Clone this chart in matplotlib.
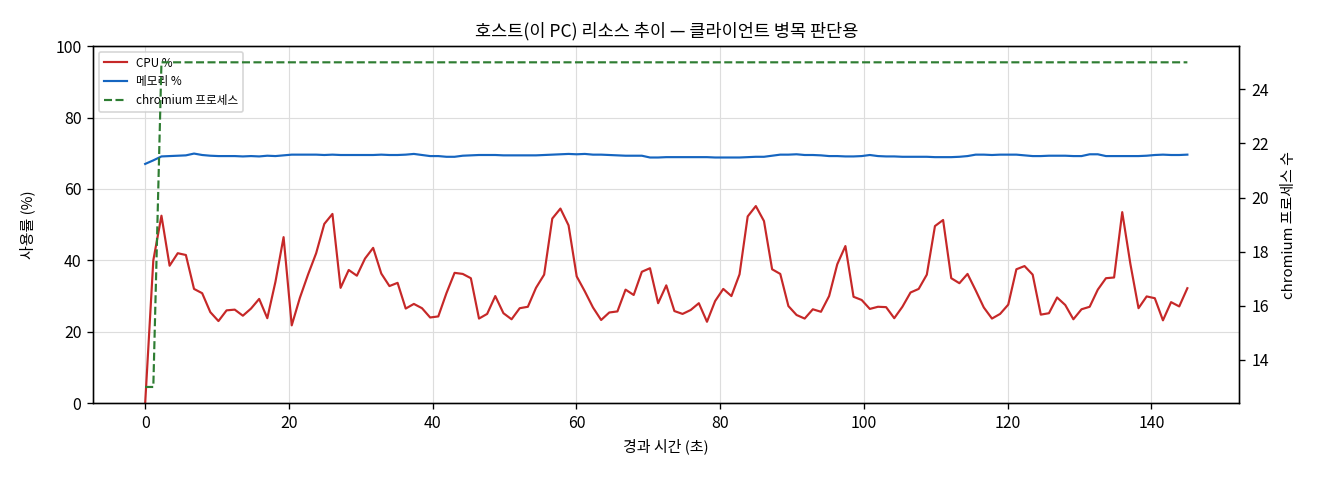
import matplotlib
matplotlib.use("Agg")
import matplotlib.pyplot as plt
import numpy as np

plt.rcParams['font.family'] = ['Noto Sans CJK KR', 'DejaVu Sans']
plt.rcParams['axes.unicode_minus'] = False

# samples, about one every 1.13 s over 145 s
n_samples = 129
elapsed = np.linspace(0, 145, n_samples)

cpu_pct = [
    0, 40, 52.5, 38.5, 42, 41.5, 32, 30.8, 25.5, 23,
    26, 26.2, 24.5, 26.5, 29.2, 23.8, 34, 46.5, 21.8, 29.5,
    36, 42, 50.2, 53, 32.3, 37.3, 35.7, 40.5, 43.5, 36.3,
    32.8, 33.7, 26.5, 27.8, 26.6, 24, 24.3, 30.8, 36.5, 36.2,
    35, 23.7, 25, 30, 25.2, 23.5, 26.6, 27, 32.3, 36,
    51.7, 54.5, 49.8, 35.5, 31.3, 26.8, 23.3, 25.4, 25.7, 31.8,
    30.3, 36.8, 37.8, 28, 33, 25.8, 25, 26.1, 28, 22.8,
    28.6, 32, 30, 36.1, 52.3, 55.2, 51, 37.5, 36.2, 27.2,
    24.7, 23.7, 26.3, 25.6, 30, 38.9, 44, 29.8, 28.9, 26.4,
    27, 26.9, 23.8, 27, 31, 32, 36, 49.6, 51.3, 35,
    33.6, 36.2, 31.6, 26.8, 23.7, 25, 27.6, 37.5, 38.4, 36,
    24.8, 25.2, 29.6, 27.5, 23.5, 26.3, 27, 31.8, 35, 35.2,
    53.5, 39, 26.6, 29.9, 29.4, 23.2, 28.3, 27.1, 32.2,
]

mem_pct = [
    67.0, 68.0, 69.1, 69.2, 69.3, 69.4, 69.9, 69.5, 69.3, 69.2,
    69.2, 69.2, 69.1, 69.2, 69.1, 69.3, 69.2, 69.4, 69.6, 69.6,
    69.6, 69.6, 69.5, 69.6, 69.5, 69.5, 69.5, 69.5, 69.5, 69.6,
    69.5, 69.5, 69.6, 69.8, 69.5, 69.2, 69.2, 69.0, 69.0, 69.3,
    69.4, 69.5, 69.5, 69.5, 69.4, 69.4, 69.4, 69.4, 69.4, 69.5,
    69.6, 69.7, 69.8, 69.7, 69.8, 69.6, 69.6, 69.5, 69.4, 69.3,
    69.3, 69.3, 68.8, 68.8, 68.9, 68.9, 68.9, 68.9, 68.9, 68.9,
    68.8, 68.8, 68.8, 68.8, 68.9, 69.0, 69.0, 69.3, 69.6, 69.6,
    69.7, 69.5, 69.5, 69.4, 69.2, 69.2, 69.1, 69.1, 69.2, 69.5,
    69.2, 69.1, 69.1, 69.0, 69.0, 69.0, 69.0, 68.9, 68.9, 68.9,
    69.0, 69.2, 69.6, 69.6, 69.5, 69.6, 69.6, 69.6, 69.4, 69.2,
    69.2, 69.3, 69.3, 69.3, 69.2, 69.2, 69.7, 69.7, 69.2, 69.2,
    69.2, 69.2, 69.2, 69.3, 69.5, 69.6, 69.5, 69.5, 69.6,
]
mem_pct = mem_pct[:n_samples]

chromium_procs = [13, 13] + [25] * (n_samples - 2)

fig, ax = plt.subplots(figsize=(11, 4), dpi=120)
fig.subplots_adjust(left=0.0705, right=0.939, top=0.904, bottom=0.16)

l1, = ax.plot(elapsed, cpu_pct, color='#c62828', lw=1.3, label='CPU %')
l2, = ax.plot(elapsed, mem_pct, color='#1565c0', lw=1.3, label='메모리 %')
ax.set_ylim(0, 100)
ax.set_xlabel('경과 시간 (초)', fontsize=9)
ax.set_ylabel('사용률 (%)', fontsize=9, labelpad=12)
ax.tick_params(labelsize=9.5)
ax.grid(True, color='#dddddd', lw=0.7)

ax2 = ax.twinx()
l3, = ax2.plot(elapsed, chromium_procs, color='#2e7d32', lw=1.3, ls='--', label='chromium 프로세스')
ax2.set_ylabel('chromium 프로세스 수', fontsize=9, labelpad=8)
ax2.tick_params(labelsize=9.5)

ax.legend(handles=[l1, l2, l3], loc='upper left', fontsize=7)
ax.set_title('호스트(이 PC) 리소스 추이 — 클라이언트 병목 판단용', fontsize=10.5)

fig.savefig('out.png')
